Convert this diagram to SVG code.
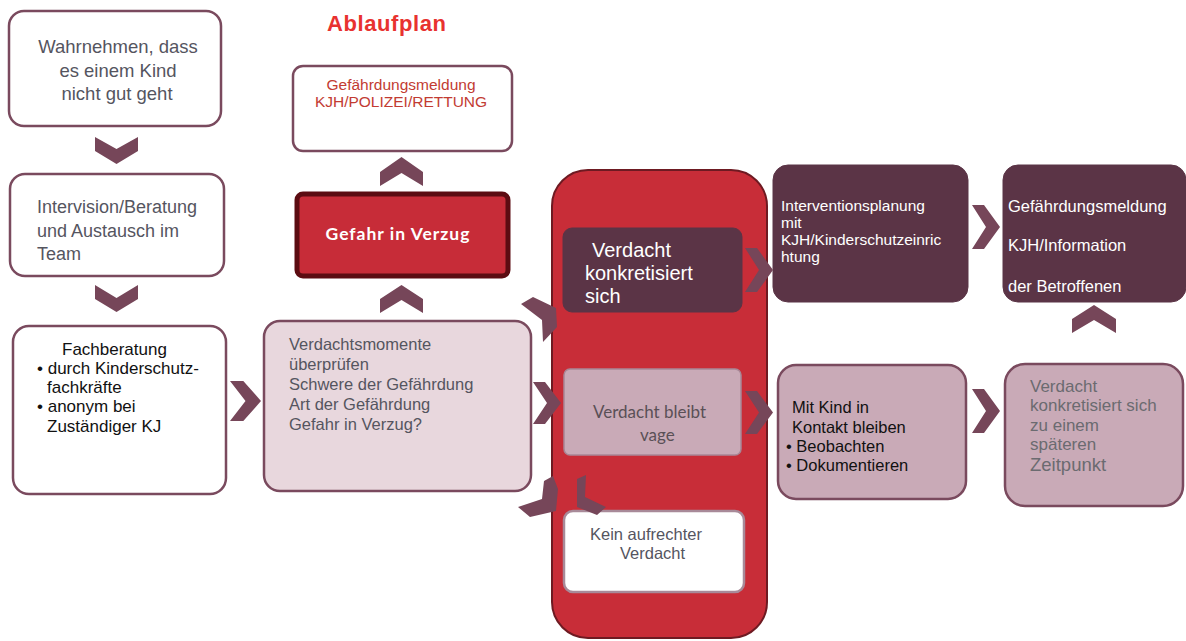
<svg xmlns="http://www.w3.org/2000/svg" width="1186" height="641" viewBox="0 0 1186 641">
<style>
.box{stroke:#7a4a5e;stroke-width:2.5}
.white{fill:#ffffff}
.light{fill:#e8d7dd}
.mauve{fill:#c9aab7}
.dark{fill:#5b3446;stroke:#5b3446;stroke-width:1}
.chev{fill:#764659}
text{font-family:"Liberation Sans",Arial,sans-serif}
.gs{font-family:Lato,"Liberation Sans",sans-serif}
.gray{fill:#55555f}
.blk{fill:#111111}
.wt{fill:#ffffff}
</style>
<rect width="1186" height="641" fill="#ffffff"/>
<text x="327" y="31" font-size="22" font-weight="bold" fill="#e8322f" letter-spacing="0.6">Ablaufplan</text>

<g id="n-wahrnehmen">
<rect class="box white" x="9" y="11" width="212" height="115" rx="15"/>
<text class="gray" font-size="18.5" text-anchor="middle"><tspan x="118" y="53">Wahrnehmen, dass</tspan><tspan x="118" y="77">es einem Kind</tspan><tspan x="117" y="100">nicht gut geht</tspan></text>
</g>

<g id="n-intervision">
<rect class="box white" x="10" y="174" width="214" height="102" rx="15"/>
<text class="gray" font-size="18"><tspan x="37" y="213">Intervision/Beratung</tspan><tspan x="37" y="237">und Austausch im</tspan><tspan x="37" y="260">Team</tspan></text>
</g>

<g id="n-fachberatung">
<rect class="box white" x="13" y="326" width="213" height="168" rx="16"/>
<text class="blk" font-size="17"><tspan x="62" y="355">Fachberatung</tspan><tspan x="37" y="374">• durch Kinderschutz-</tspan><tspan x="47" y="393">fachkräfte</tspan><tspan x="37" y="412">• anonym bei</tspan><tspan x="47" y="432">Zuständiger KJ</tspan></text>
</g>

<g id="n-verdachtsmomente">
<rect class="box light" x="264" y="321" width="267" height="170" rx="16"/>
<text class="gray" font-size="16.5"><tspan x="289" y="350">Verdachtsmomente</tspan><tspan x="289" y="370">überprüfen</tspan><tspan x="289" y="390">Schwere der Gefährdung</tspan><tspan x="289" y="410">Art der Gefährdung</tspan><tspan x="289" y="430">Gefahr in Verzug?</tspan></text>
</g>

<g id="n-gefahr">
<rect x="297" y="194" width="211" height="82" rx="6" fill="#c72c38" stroke="#5c0c12" stroke-width="5"/>
<text class="gs wt" x="398" y="240" font-size="17.5" font-weight="bold" text-anchor="middle" letter-spacing="1">Gefahr in Verzug</text>
</g>

<g id="n-meldung-polizei">
<rect class="box white" x="293" y="66" width="219" height="85" rx="10"/>
<text font-size="15.5" fill="#c23b32" text-anchor="middle"><tspan x="401" y="90">Gefährdungsmeldung</tspan><tspan x="401" y="107">KJH/POLIZEI/RETTUNG</tspan></text>
</g>

<g id="n-container">
<rect x="552" y="170" width="215" height="468" rx="36" fill="#c82d38" stroke="#6e1a22" stroke-width="2"/>
</g>

<g id="n-konkret">
<rect class="dark" x="563" y="228" width="179" height="84" rx="9"/>
<text class="wt" font-size="20"><tspan x="592" y="257">Verdacht</tspan><tspan x="585" y="280">konkretisiert</tspan><tspan x="585" y="303">sich</tspan></text>
</g>

<g id="n-vage">
<rect x="564" y="369" width="177" height="86" rx="6" fill="#c9aab7" stroke="#a88796" stroke-width="1.5"/>
<text class="gs" fill="#5a5056" font-size="17"><tspan x="593" y="418">Verdacht bleibt</tspan><tspan x="640" y="441">vage</tspan></text>
</g>

<g id="n-kein">
<rect x="564" y="511" width="180" height="81" rx="9" fill="#ffffff" stroke="#a88a99" stroke-width="2.5"/>
<text class="gray" font-size="16.5"><tspan x="590" y="540">Kein aufrechter</tspan><tspan x="620" y="559">Verdacht</tspan></text>
</g>

<g id="n-intervention">
<rect class="dark" x="773" y="165" width="195" height="137" rx="15"/>
<text class="wt" font-size="15.5"><tspan x="781" y="211">Interventionsplanung</tspan><tspan x="781" y="228">mit</tspan><tspan x="781" y="245">KJH/Kinderschutzeinric</tspan><tspan x="781" y="262">htung</tspan></text>
</g>

<g id="n-meldung-kjh">
<rect class="dark" x="1003" y="165" width="183" height="137" rx="15"/>
<text class="wt" font-size="16.5"><tspan x="1008" y="212">Gefährdungsmeldung</tspan><tspan x="1008" y="251">KJH/Information</tspan><tspan x="1008" y="292">der Betroffenen</tspan></text>
</g>

<g id="n-kontakt">
<rect class="box mauve" x="778" y="365" width="188" height="134" rx="18"/>
<text class="blk" font-size="16.5"><tspan x="792" y="413">Mit Kind in</tspan><tspan x="792" y="433">Kontakt bleiben</tspan><tspan x="786" y="452">• Beobachten</tspan><tspan x="786" y="471">• Dokumentieren</tspan></text>
</g>

<g id="n-spaeter">
<rect class="box mauve" x="1005" y="364" width="178" height="142" rx="20"/>
<text fill="#6b6b70" font-size="17"><tspan x="1030" y="392">Verdacht</tspan><tspan x="1030" y="411">konkretisiert sich</tspan><tspan x="1030" y="431">zu einem</tspan><tspan x="1030" y="450">späteren</tspan><tspan x="1030" y="471" font-size="18.5">Zeitpunkt</tspan></text>
</g>

<g id="connectors">
<path class="chev" d="M95,137 L116.5,149 L138,137 V151 L116.5,164 L95,151 Z"/>
<path class="chev" d="M95,285 L116.5,298 L138,285 V299 L116.5,312 L95,299 Z"/>
<path class="chev" d="M380,172 L401.5,157 L423,172 V186 L401.5,173 L380,186 Z"/>
<path class="chev" d="M380,299 L401.5,285 L423,299 V313 L401.5,300 L380,313 Z"/>
<path class="chev" d="M1072,319 L1094,305 L1116,319 V333 L1094,320 L1072,333 Z"/>
<path class="chev" d="M230,381 H243.3 L261,401 L243.3,421 H230 L245.5,401 Z"/>
<path class="chev" d="M533,382 H545 L561,403 L545,424 H533 L547,403 Z"/>
<path class="chev" d="M745,248 H757 L773,270 L757,292 H745 L759,270 Z"/>
<path class="chev" d="M745,391 H757 L773,412.5 L757,434 H745 L759,412.5 Z"/>
<path class="chev" d="M972,205 H984 L1000,227 L984,249 H972 L986,227 Z"/>
<path class="chev" d="M972,389 H984 L1000,411 L984,433 H972 L986,411 Z"/>
<path class="chev" d="M521,304 L533,297 L556,308 L557,327 L543,342 L542,320 Z"/>
<path class="chev" d="M518,507 L542,499 L544,481 L553,476 L558,489 L556,511 L530,517 Z"/>
<path class="chev" d="M577,479 L586,475 L585,497 L606,507 L597,515 L577,507 Z"/>
</g>
</svg>
